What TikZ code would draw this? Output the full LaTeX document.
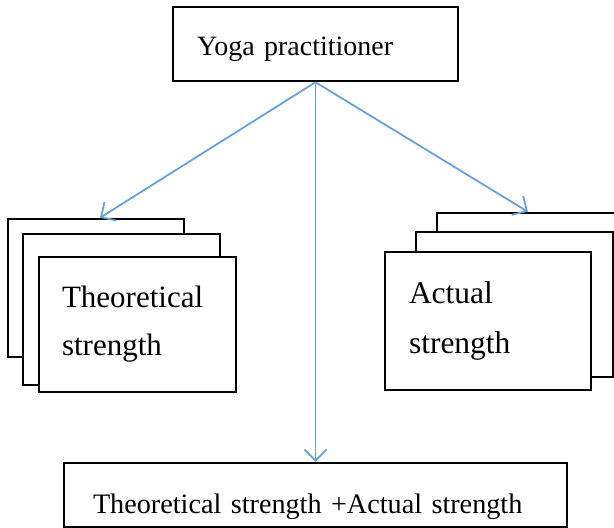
\documentclass[tikz,border=0pt]{standalone}
\usepackage{fontspec}
\setmainfont{Liberation Serif}
\usetikzlibrary{arrows.meta,calc}
\definecolor{linkblue}{RGB}{105,160,218}

\begin{document}
\begin{tikzpicture}[x=1pt,y=-1pt]
\tikzstyle{card} = [draw, fill=white, line width=2.4pt, inner sep=0pt]
\tikzstyle{link} = [draw=linkblue, line width=1.8pt, -{Straight Barb[length=11pt,width=22pt,line width=1.8pt]}]
\useasboundingbox (0,0) rectangle (614,528);
\clip (0,0) rectangle (614,528);
% top box
\node[card, minimum width=285pt, minimum height=74pt, text width=237pt, align=left,
  text height=28pt, text depth=6pt, font=\fontsize{28}{34}\selectfont] (yoga) at (315.5,44) {Yoga practitioner};
% left stack
\node[card, minimum width=176pt, minimum height=138pt] (lback) at (96,288) {};
\node[card, minimum width=197pt, minimum height=151pt] (lmid) at (121.5,309.5) {};
\node[card, minimum width=197pt, minimum height=135pt, text width=151pt, align=left,
  font=\fontsize{31}{48}\selectfont] (theo) at (137.5,324.5) {Theoretical\\strength};
% right stack
\node[card, minimum width=182pt, minimum height=157pt] (rback) at (528,291.5) {};
\node[card, minimum width=197pt, minimum height=145pt] (rmid) at (514.5,304.5) {};
\node[card, minimum width=206pt, minimum height=138pt, text width=158pt, align=left,
  font=\fontsize{31.5}{50}\selectfont] (act) at (488,321) {Actual\\strength};
% bottom box
\node[card, minimum width=503pt, minimum height=64pt, text width=445pt, align=left,
  text height=42pt, text depth=6pt, font=\fontsize{28.2}{34}\selectfont] (sum) at (315.5,495) {Theoretical strength +Actual strength};
% arrows
\draw[link] (yoga.south) -- ([xshift=4pt]lback.north);
\draw[link] (yoga.south) -- (rback.north);
\draw[link] (yoga.south) -- (sum.north);
\end{tikzpicture}
\end{document}
